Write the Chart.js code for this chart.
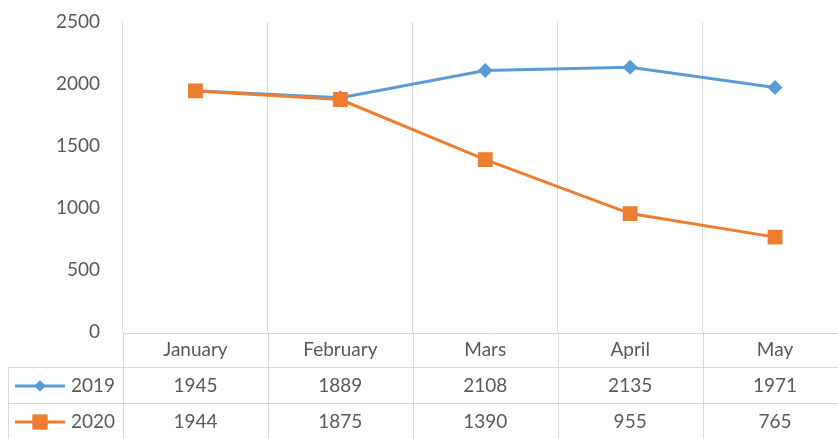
<!DOCTYPE html>
<html>
<head>
<meta charset="utf-8">
<script src="https://cdn.jsdelivr.net/npm/chart.js@4"></script>
<style>
  html, body { margin: 0; padding: 0; background: #fff; overflow: hidden; }
  #wrap { width: 838px; height: 439px; overflow: hidden; }
  #chart { display: block; }
</style>
</head>
<body>
<div id="wrap"><canvas id="chart" width="858" height="439"></canvas></div>
<script>
// data
const months = ['January', 'February', 'Mars', 'April', 'May'];
const years = ['2019', '2020'];
const values2019 = [1945, 1889, 2108, 2135, 1971];
const values2020 = [1944, 1875, 1390, 955, 765];
const yTicks = [0, 500, 1000, 1500, 2000, 2500];

const blue = '#5B9BD5';
const orange = '#ED7D31';
const gridColor = '#D9D9D9';
const textColor = '#595959';
const fontFamily = 'Lato, "Open Sans", sans-serif';
const fontSize = 19;

// draws the data table under the plot (header row + one row per series)
const dataTable = {
    id: 'dataTable',
    afterDraw(chart) {
        const ctx = chart.ctx;
        const x = chart.scales.x;
        const area = chart.chartArea;
        const tableLeft = 8;
        const headTop = area.bottom + 1;
        const rowTops = [367, 403];
        const rowH = 36;
        const bottom = chart.height;
        const step = x.getPixelForValue(1) - x.getPixelForValue(0);
        const sets = [
            { label: years[0], data: values2019, color: blue, style: 'rectRot', r: 5.5 },
            { label: years[1], data: values2020, color: orange, style: 'rect', r: 10.5 }
        ];

        ctx.save();
        ctx.strokeStyle = gridColor;
        ctx.lineWidth = 1;
        // horizontal lines
        ctx.beginPath();
        ctx.moveTo(area.left, headTop + 0.5);
        ctx.lineTo(chart.width, headTop + 0.5);
        rowTops.forEach(t => {
            ctx.moveTo(tableLeft, t + 0.5);
            ctx.lineTo(chart.width, t + 0.5);
        });
        // vertical lines through the table
        ctx.moveTo(tableLeft + 0.5, rowTops[0]);
        ctx.lineTo(tableLeft + 0.5, bottom);
        for (let i = 0; i <= months.length; i++) {
            const px = Math.round(x.getPixelForValue(0) - step / 2 + i * step) + 0.5;
            ctx.moveTo(px, area.bottom);
            ctx.lineTo(px, bottom);
        }
        ctx.stroke();

        ctx.fillStyle = textColor;
        ctx.font = fontSize + 'px ' + fontFamily;
        ctx.textAlign = 'center';
        ctx.textBaseline = 'middle';
        months.forEach((m, i) => ctx.fillText(m, x.getPixelForValue(i), 350));

        sets.forEach((s, k) => {
            const cy = rowTops[k] + rowH / 2 + 1;
            s.data.forEach((v, i) => {
                ctx.fillStyle = textColor;
                ctx.textAlign = 'center';
                ctx.fillText(String(v), x.getPixelForValue(i), cy);
            });
            // legend key
            ctx.strokeStyle = s.color;
            ctx.lineWidth = 3;
            ctx.beginPath();
            ctx.moveTo(15, cy);
            ctx.lineTo(65, cy);
            ctx.stroke();
            ctx.fillStyle = s.color;
            Chart.helpers.drawPoint(ctx, { pointStyle: s.style, radius: s.r, rotation: 0, borderWidth: 0 }, 40, cy);
            ctx.fill();
            ctx.fillStyle = textColor;
            ctx.textAlign = 'right';
            ctx.fillText(s.label, 115, cy);
        });
        ctx.restore();
    }
};

new Chart(document.getElementById('chart'), {
    type: 'line',
    data: {
        labels: months,
        datasets: [
            {
                label: years[0],
                data: values2019,
                borderColor: blue,
                backgroundColor: blue,
                borderWidth: 3,
                pointStyle: 'rectRot',
                pointRadius: 7.5,
                pointBorderWidth: 0,
                order: 2
            },
            {
                label: years[1],
                data: values2020,
                borderColor: orange,
                backgroundColor: orange,
                borderWidth: 3,
                pointStyle: 'rect',
                pointRadius: 10.5,
                pointBorderWidth: 0,
                order: 1
            }
        ]
    },
    options: {
        responsive: false,
        animation: false,
        layout: { padding: { top: 22, bottom: 107, left: 0, right: 2 } },
        plugins: { legend: { display: false }, tooltip: { enabled: false } },
        scales: {
            x: {
                offset: true,
                ticks: { display: false },
                grid: { offset: true, color: gridColor, drawTicks: false },
                border: { display: false }
            },
            y: {
                min: 0,
                max: 2500,
                afterBuildTicks: s => { s.ticks = yTicks.map(v => ({ value: v })); },
                afterFit: s => {
                    s.width = 123;
                    s.paddingTop = 0;
                    s.paddingBottom = 0;
                },
                ticks: {
                    padding: 23,
                    color: textColor,
                    font: { family: fontFamily, size: fontSize },
                    callback: v => String(v)
                },
                grid: { display: false, drawTicks: false },
                border: { display: false }
            }
        }
    },
    plugins: [dataTable]
});
</script>
</body>
</html>
